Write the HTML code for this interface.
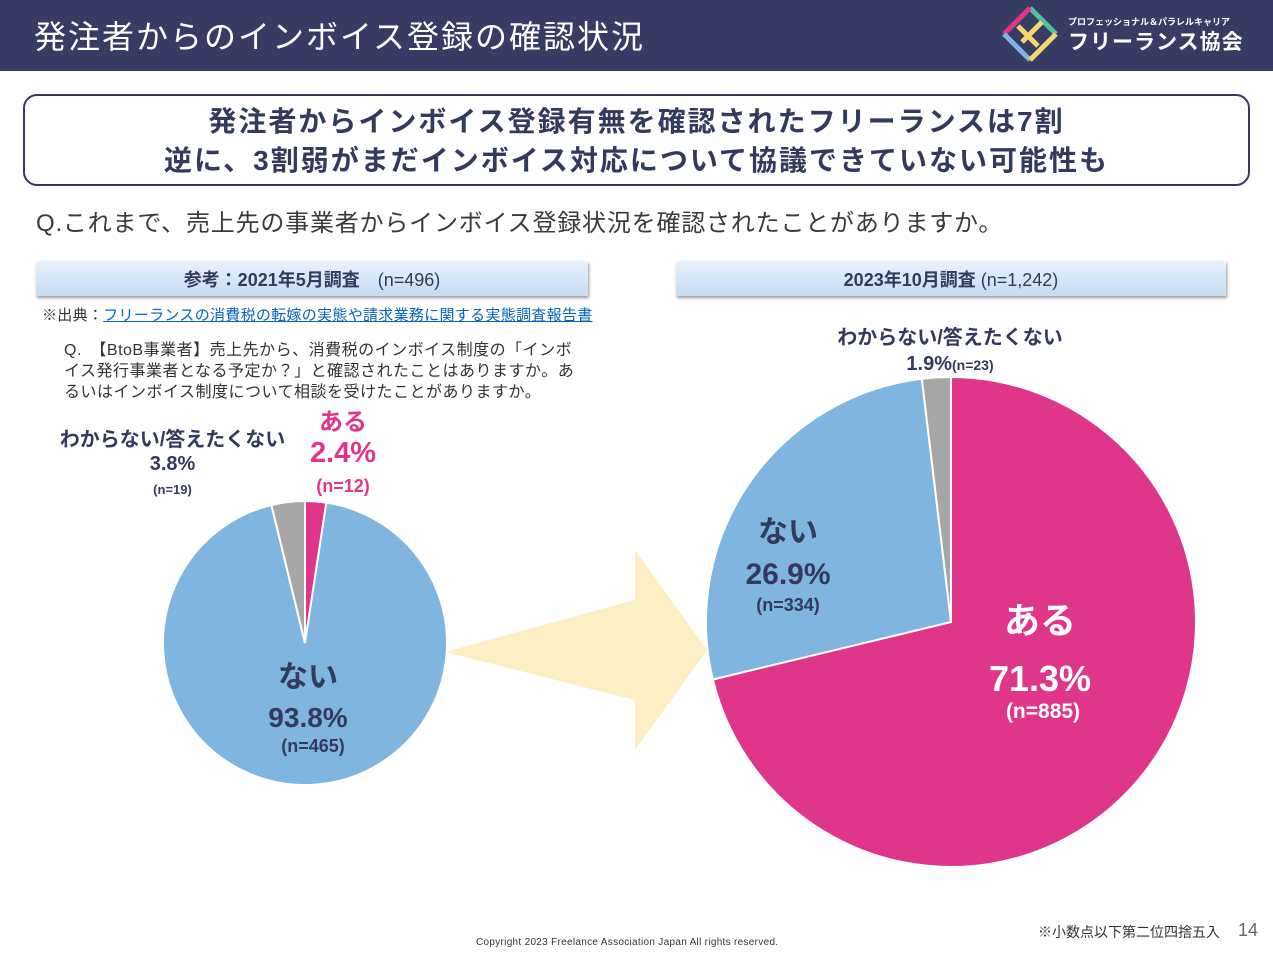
<!DOCTYPE html>
<html><head><meta charset="utf-8"><style>
body{margin:0;width:1273px;height:955px;background:#fff;font-family:"Liberation Sans","Noto Sans CJK JP",sans-serif;position:relative;overflow:hidden;color:#333a5e}
.a{position:absolute;white-space:nowrap}
.b{font-weight:bold}
</style></head><body>
<div class="a" style="left:0;top:0;width:1273px;height:71px;background:#363c64"></div>
<div class="a" style="left:34px;top:12px;font-size:32px;letter-spacing:2px;color:#fff">発注者からのインボイス登録の確認状況</div>
<svg class="a" style="left:1000px;top:4px" width="60" height="60" viewBox="0 0 60 60">
<g fill="none" stroke-width="5"><path d="M30 4 L56 30" stroke="#4fc3a1"/><path d="M4 30 L30 4" stroke="#e0368a"/><path d="M4 30 L30 56" stroke="#7fb5de"/><path d="M30 56 L56 30" stroke="#f5d76e"/><path d="M18 22 L38 42 M22 38 L42 18" stroke="#f5d76e"/></g></svg>
<div class="a b" style="left:1068px;top:15px;font-size:9px;color:#fff">プロフェッショナル＆パラレルキャリア</div>
<div class="a b" style="left:1068px;top:26px;font-size:21px;letter-spacing:1px;color:#fff">フリーランス協会</div>
<div class="a" style="left:23px;top:94px;width:1223px;height:88px;border:2px solid #333a5e;border-radius:14px"></div>
<div class="a b" style="left:0;width:1273px;text-align:center;top:100px;font-size:28px;letter-spacing:2px">発注者からインボイス登録有無を確認されたフリーランスは7割</div>
<div class="a b" style="left:0;width:1273px;text-align:center;top:139px;font-size:28px;letter-spacing:2px">逆に、3割弱がまだインボイス対応について協議できていない可能性も</div>
<div class="a" style="left:36px;top:203px;font-size:24px;letter-spacing:0.8px;color:#3a3a3a">Q.これまで、売上先の事業者からインボイス登録状況を確認されたことがありますか。</div>
<div class="a" style="left:36px;top:261px;width:552px;height:35px;background:linear-gradient(#e8f2fc,#c6dcf2);box-shadow:1px 2px 3px #999"></div>
<div class="a" style="left:36px;top:266px;width:552px;text-align:center;font-size:18px"><b>参考：2021年5月調査</b>　(n=496)</div>
<div class="a" style="left:676px;top:261px;width:550px;height:35px;background:linear-gradient(#e8f2fc,#c6dcf2);box-shadow:1px 2px 3px #999"></div>
<div class="a" style="left:676px;top:266px;width:550px;text-align:center;font-size:18px"><b>2023年10月調査</b>  (n=1,242)</div>
<div class="a" style="left:42px;top:304px;font-size:15px;letter-spacing:0.3px;color:#333">※出典：<span style="color:#0563c1;text-decoration:underline">フリーランスの消費税の転嫁の実態や請求業務に関する実態調査報告書</span></div>
<div class="a" style="left:64px;top:340px;font-size:16px;line-height:21px;letter-spacing:0.5px;color:#333;white-space:normal;width:520px">Q.　【BtoB事業者】売上先から、消費税のインボイス制度の「インボイス発行事業者となる予定か？」と確認されたことはありますか。あるいはインボイス制度について相談を受けたことがありますか。</div>
<svg class="a" style="left:0;top:0" width="1273" height="955">
<polygon points="445,652 635,600 635,550 707,650 635,750 635,700" fill="#fdefc3"/>
<g id="p1"></g><g id="p2"></g>
</svg>
<div class="a b" style="left:50px;top:428px;font-size:20px;line-height:24px;text-align:center;width:245px">わからない/答えたくない<br>3.8%<br><span style="font-size:13px">(n=19)</span></div>
<div class="a b" style="left:300px;top:408px;font-size:24px;line-height:30px;text-align:center;width:86px;color:#e0368a">ある<br><span style="font-size:29px">2.4%</span><br><span style="font-size:18px">(n=12)</span></div>
<div class="a b" style="left:233px;top:658px;width:150px;text-align:center;font-size:30px;line-height:40px">ない<br><span style="font-size:28px">93.8%</span></div>
<div class="a b" style="left:238px;top:736px;width:150px;text-align:center;font-size:18px">(n=465)</div>
<div class="a b" style="left:800px;top:325px;width:300px;text-align:center;font-size:20px;line-height:26px">わからない/答えたくない<br>1.9%<span style="font-size:14px">(n=23)</span></div>
<div class="a b" style="left:713px;top:512px;width:150px;text-align:center;font-size:30px;line-height:42px">ない<br>26.9%</div>
<div class="a b" style="left:713px;top:595px;width:150px;text-align:center;font-size:18px">(n=334)</div>
<div class="a b" style="left:940px;top:592px;width:200px;text-align:center;font-size:36px;line-height:58px;color:#fff">ある<br>71.3%</div>
<div class="a b" style="left:943px;top:700px;width:200px;text-align:center;font-size:21px;color:#fff">(n=885)</div>
<div class="a" style="left:1038px;top:922px;font-size:14px;color:#333">※小数点以下第二位四捨五入</div>
<div class="a" style="left:1238px;top:920px;font-size:18px;color:#666">14</div>
<div class="a" style="left:476px;top:937px;font-size:10px;letter-spacing:0.3px;color:#333">Copyright 2023 Freelance Association Japan  All rights reserved.</div>
<script>
const categories=["ある","ない","わからない/答えたくない"];
const colors=["#e0368a","#7fb5de","#a6a6a6"];
const values2021=[2.4,93.8,3.8];
const values2023=[71.3,26.9,1.9];
function pie(gid,vals,cx,cy,r){
  const g=document.getElementById(gid);
  const tot=vals.reduce((a,b)=>a+b,0);let a0=0;
  vals.forEach((v,i)=>{
    const a1=a0+v/tot*2*Math.PI;
    const x0=cx+r*Math.sin(a0),y0=cy-r*Math.cos(a0),x1=cx+r*Math.sin(a1),y1=cy-r*Math.cos(a1);
    const p=document.createElementNS("http://www.w3.org/2000/svg","path");
    p.setAttribute('d',`M${cx},${cy}L${x0},${y0}A${r},${r} 0 ${a1-a0>Math.PI?1:0} 1 ${x1},${y1}Z`);
    p.setAttribute('fill',colors[i]);p.setAttribute('stroke','#fff');p.setAttribute('stroke-width','2');
    
    
    g.appendChild(p);a0=a1;
  });
}
pie("p1",values2021,305,643,142);
pie("p2",values2023,951,622,245);
</script>
</body></html>
